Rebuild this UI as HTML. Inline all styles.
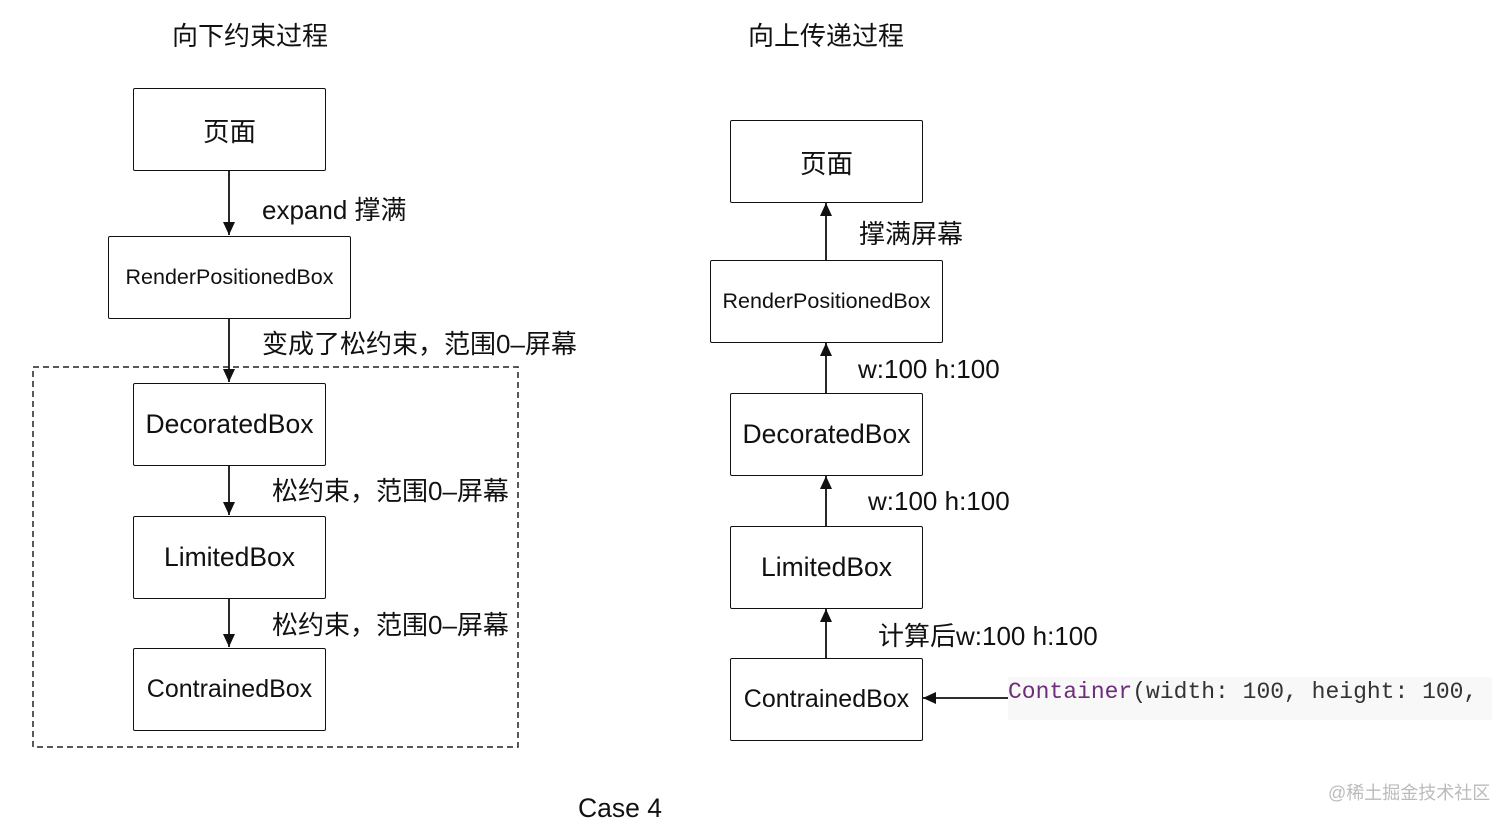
<!DOCTYPE html><html><head><meta charset="utf-8"><style>
body{margin:0;width:1512px;height:827px;background:#fff;position:relative;overflow:hidden;font-family:"Liberation Sans","Noto Sans CJK SC",sans-serif;color:#111}
.b{position:absolute;border:1.8px solid #111;border-radius:2px;box-sizing:border-box;display:flex;align-items:center;justify-content:center;font-size:26.5px;background:#fff}
.t{position:absolute;font-size:26px;white-space:nowrap;line-height:1}
</style></head><body>
<svg width="1512" height="827" style="position:absolute;left:0;top:0">
<defs><marker id="a" markerWidth="12" markerHeight="14" refX="13" refY="7" orient="auto" markerUnits="userSpaceOnUse"><path d="M0,1L13,7L0,13z" fill="#111"/></marker></defs>
<rect x="33" y="367" width="485" height="380" fill="none" stroke="#222" stroke-width="1.5" stroke-dasharray="6,4"/>
<g stroke="#111" stroke-width="1.8" marker-end="url(#a)">
<line x1="229" y1="170" x2="229" y2="235"/>
<line x1="229" y1="318" x2="229" y2="382"/>
<line x1="229" y1="465" x2="229" y2="515"/>
<line x1="229" y1="598" x2="229" y2="647"/>
<line x1="826" y1="260" x2="826" y2="203"/>
<line x1="826" y1="393" x2="826" y2="343"/>
<line x1="826" y1="526" x2="826" y2="476"/>
<line x1="826" y1="658" x2="826" y2="609"/>
<line x1="1008" y1="698" x2="923" y2="698"/>
</g></svg>
<div class="t" style="left:172px;top:23px;font-size:26px">向下约束过程</div>
<div class="t" style="left:748px;top:23px;font-size:26px">向上传递过程</div>
<div class="b" style="left:133px;top:88px;width:193px;height:83px">页面</div>
<div class="b" style="left:108px;top:236px;width:243px;height:83px;font-size:21.5px">RenderPositionedBox</div>
<div class="b" style="left:133px;top:383px;width:193px;height:83px">DecoratedBox</div>
<div class="b" style="left:133px;top:516px;width:193px;height:83px">LimitedBox</div>
<div class="b" style="left:133px;top:648px;width:193px;height:83px;font-size:25px">ContrainedBox</div>
<div class="t" style="left:262px;top:197px">expand 撑满</div>
<div class="t" style="left:262px;top:331px">变成了松约束，范围0–屏幕</div>
<div class="t" style="left:272px;top:478px">松约束，范围0–屏幕</div>
<div class="t" style="left:272px;top:612px">松约束，范围0–屏幕</div>
<div class="b" style="left:730px;top:120px;width:193px;height:83px">页面</div>
<div class="b" style="left:710px;top:260px;width:233px;height:83px;font-size:21.5px">RenderPositionedBox</div>
<div class="b" style="left:730px;top:393px;width:193px;height:83px">DecoratedBox</div>
<div class="b" style="left:730px;top:526px;width:193px;height:83px">LimitedBox</div>
<div class="b" style="left:730px;top:658px;width:193px;height:83px;font-size:25px">ContrainedBox</div>
<div class="t" style="left:859px;top:221px">撑满屏幕</div>
<div class="t" style="left:858px;top:356px">w:100 h:100</div>
<div class="t" style="left:868px;top:488px">w:100 h:100</div>
<div class="t" style="left:878px;top:623px">计算后w:100 h:100</div>
<div style="position:absolute;left:1008px;top:677px;width:484px;height:43px;background:#f8f8f9"></div>
<div class="t" style="left:1008px;top:681px;font-family:'Liberation Mono',monospace;font-size:23px;color:#333"><span style="color:#6b2e78">Container</span>(width: 100, height: 100,</div>
<div class="t" style="left:578px;top:795px;font-size:26.5px">Case 4</div>
<div class="t" style="left:1328px;top:784px;font-size:18px;color:#bbb">@稀土掘金技术社区</div>
</body></html>
